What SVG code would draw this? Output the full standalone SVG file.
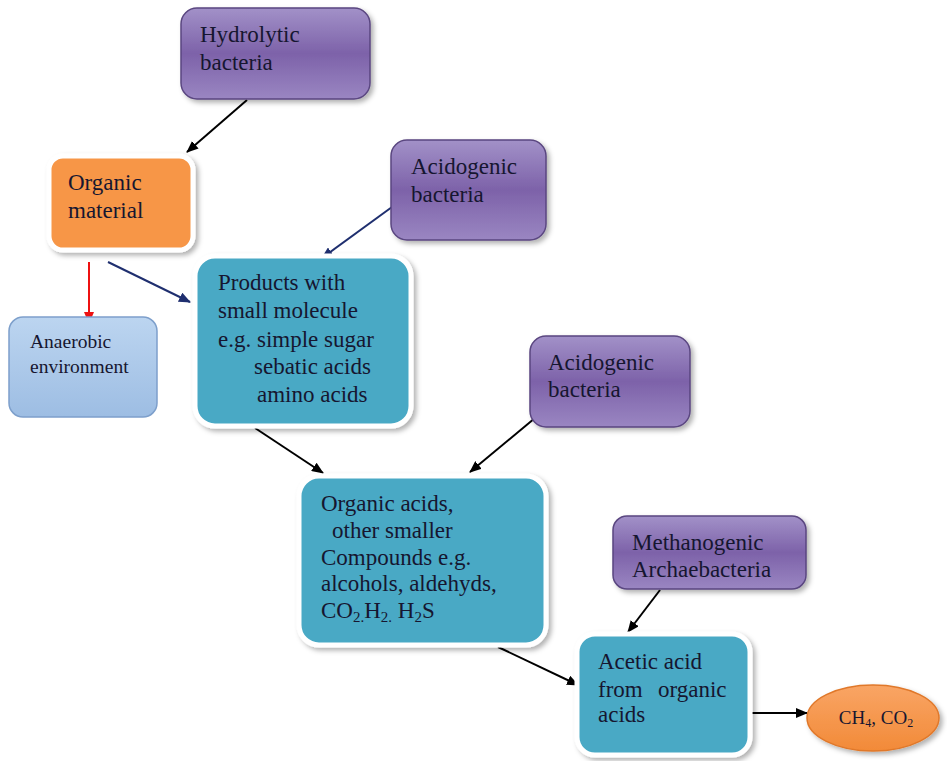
<svg xmlns="http://www.w3.org/2000/svg" width="947" height="761" viewBox="0 0 947 761">
<defs>
<linearGradient id="purp" x1="0" y1="0" x2="0" y2="1">
<stop offset="0" stop-color="#a291c8"/>
<stop offset="0.5" stop-color="#7d62a9"/>
<stop offset="1" stop-color="#9a86c2"/>
</linearGradient>
<linearGradient id="lblue" x1="0" y1="0" x2="0" y2="1">
<stop offset="0" stop-color="#bcd5f0"/>
<stop offset="1" stop-color="#9dbde3"/>
</linearGradient>
<linearGradient id="orng" x1="0" y1="0" x2="0" y2="1">
<stop offset="0" stop-color="#f9a565"/>
<stop offset="1" stop-color="#f28a38"/>
</linearGradient>
<filter id="sh" x="-10%" y="-10%" width="130%" height="130%">
<feDropShadow dx="3" dy="3" stdDeviation="2.5" flood-color="#000" flood-opacity="0.3"/>
</filter>
<marker id="ab" viewBox="0 0 12 10" refX="11" refY="5" markerWidth="12" markerHeight="10" markerUnits="userSpaceOnUse" orient="auto">
<path d="M0,0 L12,5 L0,10 z" fill="#000"/>
</marker>
<marker id="an" viewBox="0 0 12 10" refX="11" refY="5" markerWidth="12" markerHeight="10" markerUnits="userSpaceOnUse" orient="auto">
<path d="M0,0 L12,5 L0,10 z" fill="#1f2f6f"/>
</marker>
<marker id="ar" viewBox="0 0 12 10" refX="11" refY="5" markerWidth="12" markerHeight="10" markerUnits="userSpaceOnUse" orient="auto">
<path d="M0,0 L12,5 L0,10 z" fill="#ee1111"/>
</marker>
</defs>
<style>
.t{font-family:"Liberation Serif","Times New Roman",serif;fill:#161630}
.big{font-size:23px}
.sm{font-size:19.5px}
.purple{fill:url(#purp);stroke:#5a4680;stroke-width:1.5;filter:url(#sh)}
.teal{fill:#49a9c5;stroke:#ffffff;stroke-width:5;filter:url(#sh)}
.org{fill:#f79646;stroke:#ffffff;stroke-width:5;filter:url(#sh)}
.lb{fill:url(#lblue);stroke:#7d9fcb;stroke-width:1.5}
.c{fill:none;stroke-width:2}
</style>
<rect width="947" height="761" fill="#ffffff"/>

<g id="connectors">
<line class="c" x1="247" y1="100" x2="187" y2="152" stroke="#000" marker-end="url(#ab)"/>
<line class="c" x1="89" y1="262" x2="89" y2="323" stroke="#ee1111" marker-end="url(#ar)"/>
<line class="c" x1="108" y1="262" x2="190" y2="302" stroke="#1f2f6f" marker-end="url(#an)"/>
<line class="c" x1="392" y1="207" x2="322" y2="258" stroke="#1f2f6f" marker-end="url(#an)"/>
<line class="c" x1="255" y1="428" x2="323" y2="473" stroke="#000" marker-end="url(#ab)"/>
<line class="c" x1="535" y1="418" x2="470" y2="472" stroke="#000" marker-end="url(#ab)"/>
<line class="c" x1="498" y1="647" x2="578" y2="685" stroke="#000" marker-end="url(#ab)"/>
<line class="c" x1="660" y1="590" x2="628" y2="632" stroke="#000" marker-end="url(#ab)"/>
<line class="c" x1="752" y1="713" x2="807" y2="713" stroke="#000" marker-end="url(#ab)"/>
</g>

<g id="hydrolytic">
<rect class="purple" x="181" y="8" width="189" height="91" rx="16"/>
<text class="t big" x="200" y="42">Hydrolytic</text>
<text class="t big" x="200" y="70">bacteria</text>
</g>

<g id="organic-material">
<rect class="org" x="49" y="156" width="144" height="94" rx="14"/>
<text class="t big" x="68" y="190">Organic</text>
<text class="t big" x="68" y="218">material</text>
</g>

<g id="acidogenic1">
<rect class="purple" x="391" y="140" width="155" height="100" rx="16"/>
<text class="t big" x="411" y="174">Acidogenic</text>
<text class="t big" x="411" y="202">bacteria</text>
</g>

<g id="anaerobic">
<rect class="lb" x="9" y="317" width="148" height="100" rx="14"/>
<text class="t sm" x="30" y="348">Anaerobic</text>
<text class="t sm" x="30" y="373">environment</text>
</g>

<g id="products">
<rect class="teal" x="195" y="256" width="216" height="170" rx="20"/>
<text class="t big" x="218" y="290">Products with</text>
<text class="t big" x="218" y="318">small molecule</text>
<text class="t big" x="218" y="347">e.g. simple sugar</text>
<text class="t big" x="254" y="374">sebatic acids</text>
<text class="t big" x="257" y="402">amino acids</text>
</g>

<g id="acidogenic2">
<rect class="purple" x="530" y="336" width="160" height="91" rx="16"/>
<text class="t big" x="548" y="370">Acidogenic</text>
<text class="t big" x="548" y="397">bacteria</text>
</g>

<g id="organic-acids">
<rect class="teal" x="299" y="476" width="247" height="169" rx="20"/>
<text class="t big" x="321" y="511">Organic acids,</text>
<text class="t big" x="332" y="538">other smaller</text>
<text class="t big" x="321" y="565">Compounds e.g.</text>
<text class="t big" x="321" y="591">alcohols, aldehyds,</text>
<text class="t big" x="321" y="618">CO<tspan font-size="15" dy="4">2.</tspan><tspan dy="-4">H</tspan><tspan font-size="15" dy="4">2.</tspan><tspan dy="-4"> H</tspan><tspan font-size="15" dy="4">2</tspan><tspan dy="-4">S</tspan></text>
</g>

<g id="methanogenic">
<rect class="purple" x="613" y="516" width="193" height="73" rx="14"/>
<text class="t big" x="632" y="550">Methanogenic</text>
<text class="t big" x="632" y="577">Archaebacteria</text>
</g>

<g id="acetic">
<rect class="teal" x="577" y="634" width="173" height="121" rx="18"/>
<text class="t big" x="598" y="669">Acetic acid</text>
<text class="t big" x="598" y="697">from</text>
<text class="t big" x="658" y="697">organic</text>
<text class="t big" x="598" y="722">acids</text>
</g>

<g id="ch4-co2">
<ellipse cx="873" cy="718" rx="66" ry="33" fill="url(#orng)" stroke="#e0782a" stroke-width="1.5" filter="url(#sh)"/>
<text class="t" font-size="19" x="876" y="724" text-anchor="middle">CH<tspan font-size="12" dy="3">4</tspan><tspan dy="-3">, CO</tspan><tspan font-size="12" dy="3">2</tspan></text>
</g>
</svg>
